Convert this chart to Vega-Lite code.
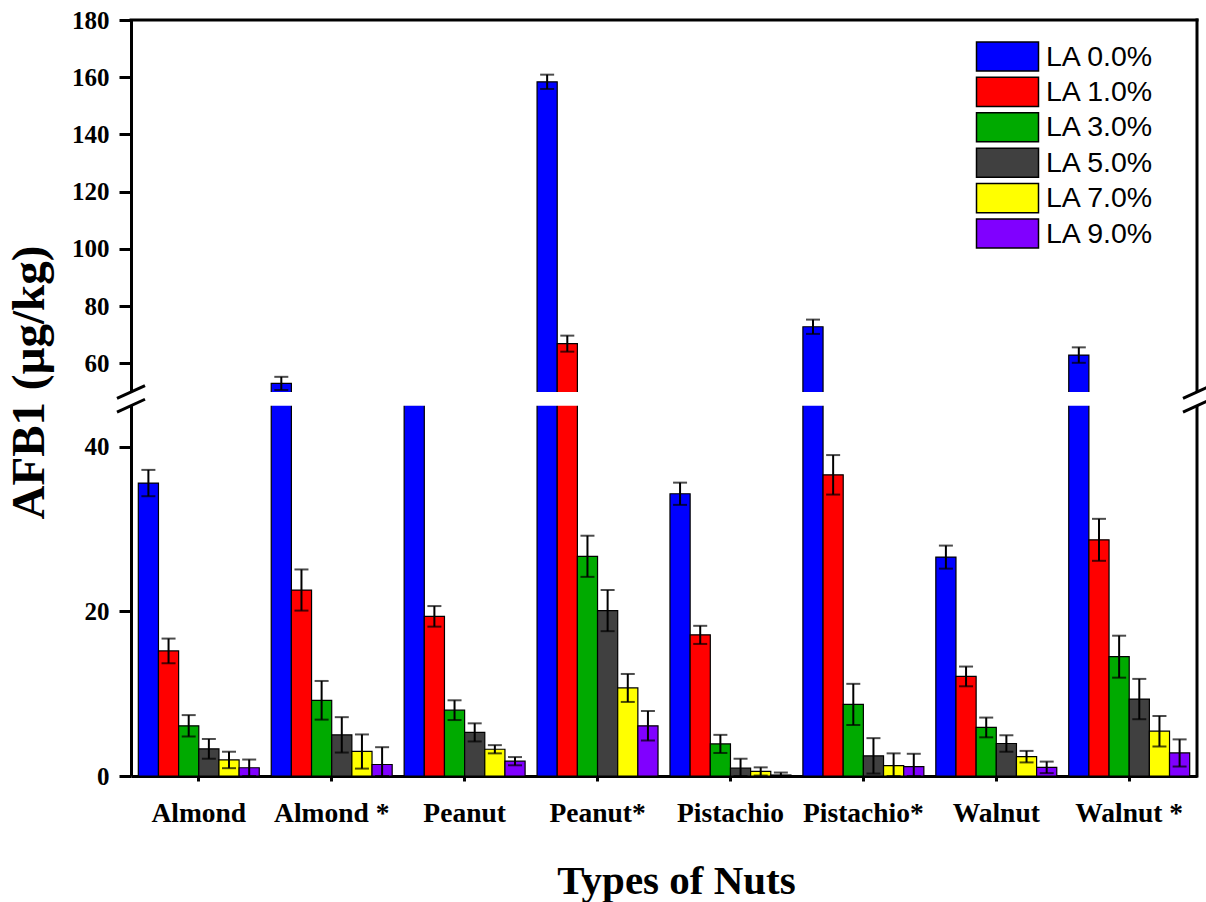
{
  "$schema": "https://vega.github.io/schema/vega-lite/v6.json",
  "width": 1066,
  "height": 756,
  "autosize": {"type": "none"},
  "padding": {"left": 131, "top": 20, "right": 9, "bottom": 126},
  "background": "white",
  "config": {"view": {"stroke": null}},
  "layer": [
    {
      "data": {
        "values": [
          {"nut": "Almond", "la": "LA 0.0%", "v": 35.6, "lo": 34.0, "hi": 37.2},
          {"nut": "Almond", "la": "LA 1.0%", "v": 15.2, "lo": 13.7, "hi": 16.7},
          {"nut": "Almond", "la": "LA 3.0%", "v": 6.1, "lo": 4.8, "hi": 7.4},
          {"nut": "Almond", "la": "LA 5.0%", "v": 3.3, "lo": 2.1, "hi": 4.5},
          {"nut": "Almond", "la": "LA 7.0%", "v": 1.95, "lo": 0.95, "hi": 2.95},
          {"nut": "Almond", "la": "LA 9.0%", "v": 1.0, "lo": 0.0, "hi": 2.0},
          {"nut": "Almond *", "la": "LA 0.0%", "v": 53.0, "lo": 50.7, "hi": 55.3},
          {"nut": "Almond *", "la": "LA 1.0%", "v": 22.6, "lo": 20.1, "hi": 25.1},
          {"nut": "Almond *", "la": "LA 3.0%", "v": 9.2, "lo": 6.85, "hi": 11.55},
          {"nut": "Almond *", "la": "LA 5.0%", "v": 5.0, "lo": 2.85, "hi": 7.15},
          {"nut": "Almond *", "la": "LA 7.0%", "v": 3.0, "lo": 0.9, "hi": 5.05},
          {"nut": "Almond *", "la": "LA 9.0%", "v": 1.4, "lo": 0.0, "hi": 3.5},
          {"nut": "Peanut", "la": "LA 0.0%", "v": 47.0, "lo": 45.5, "hi": 48.5},
          {"nut": "Peanut", "la": "LA 1.0%", "v": 19.4, "lo": 18.15, "hi": 20.65},
          {"nut": "Peanut", "la": "LA 3.0%", "v": 8.0, "lo": 6.8, "hi": 9.2},
          {"nut": "Peanut", "la": "LA 5.0%", "v": 5.3, "lo": 4.2, "hi": 6.4},
          {"nut": "Peanut", "la": "LA 7.0%", "v": 3.25, "lo": 2.75, "hi": 3.75},
          {"nut": "Peanut", "la": "LA 9.0%", "v": 1.8, "lo": 1.3, "hi": 2.3},
          {"nut": "Peanut*", "la": "LA 0.0%", "v": 158.4, "lo": 155.9, "hi": 160.9},
          {"nut": "Peanut*", "la": "LA 1.0%", "v": 66.9, "lo": 64.1, "hi": 69.7},
          {"nut": "Peanut*", "la": "LA 3.0%", "v": 26.7, "lo": 24.2, "hi": 29.2},
          {"nut": "Peanut*", "la": "LA 5.0%", "v": 20.1, "lo": 17.6, "hi": 22.6},
          {"nut": "Peanut*", "la": "LA 7.0%", "v": 10.7, "lo": 9.0, "hi": 12.4},
          {"nut": "Peanut*", "la": "LA 9.0%", "v": 6.1, "lo": 4.3, "hi": 7.9},
          {"nut": "Pistachio", "la": "LA 0.0%", "v": 34.3, "lo": 32.95, "hi": 35.65},
          {"nut": "Pistachio", "la": "LA 1.0%", "v": 17.15, "lo": 16.05, "hi": 18.25},
          {"nut": "Pistachio", "la": "LA 3.0%", "v": 3.9, "lo": 2.8, "hi": 5.0},
          {"nut": "Pistachio", "la": "LA 5.0%", "v": 0.95, "lo": 0.0, "hi": 2.1},
          {"nut": "Pistachio", "la": "LA 7.0%", "v": 0.55, "lo": 0.05, "hi": 1.05},
          {"nut": "Pistachio", "la": "LA 9.0%", "v": 0.12, "lo": 0.0, "hi": 0.42},
          {"nut": "Pistachio*", "la": "LA 0.0%", "v": 72.8, "lo": 70.3, "hi": 75.3},
          {"nut": "Pistachio*", "la": "LA 1.0%", "v": 36.6, "lo": 34.2, "hi": 39.0},
          {"nut": "Pistachio*", "la": "LA 3.0%", "v": 8.7, "lo": 6.2, "hi": 11.2},
          {"nut": "Pistachio*", "la": "LA 5.0%", "v": 2.45, "lo": 0.3, "hi": 4.6},
          {"nut": "Pistachio*", "la": "LA 7.0%", "v": 1.25, "lo": 0.0, "hi": 2.75},
          {"nut": "Pistachio*", "la": "LA 9.0%", "v": 1.15, "lo": 0.0, "hi": 2.7},
          {"nut": "Walnut", "la": "LA 0.0%", "v": 26.6, "lo": 25.2, "hi": 28.0},
          {"nut": "Walnut", "la": "LA 1.0%", "v": 12.1, "lo": 10.9, "hi": 13.3},
          {"nut": "Walnut", "la": "LA 3.0%", "v": 5.9, "lo": 4.7, "hi": 7.1},
          {"nut": "Walnut", "la": "LA 5.0%", "v": 3.95, "lo": 2.95, "hi": 4.95},
          {"nut": "Walnut", "la": "LA 7.0%", "v": 2.35, "lo": 1.65, "hi": 3.05},
          {"nut": "Walnut", "la": "LA 9.0%", "v": 1.05, "lo": 0.35, "hi": 1.75},
          {"nut": "Walnut *", "la": "LA 0.0%", "v": 62.9, "lo": 60.2, "hi": 65.6},
          {"nut": "Walnut *", "la": "LA 1.0%", "v": 28.7, "lo": 26.15, "hi": 31.25},
          {"nut": "Walnut *", "la": "LA 3.0%", "v": 14.5, "lo": 11.95, "hi": 17.05},
          {"nut": "Walnut *", "la": "LA 5.0%", "v": 9.35, "lo": 6.9, "hi": 11.8},
          {"nut": "Walnut *", "la": "LA 7.0%", "v": 5.45, "lo": 3.6, "hi": 7.3},
          {"nut": "Walnut *", "la": "LA 9.0%", "v": 2.8, "lo": 1.15, "hi": 4.45}
        ]
      },
      "layer": [
        {
          "mark": {"type": "bar", "stroke": "black", "strokeWidth": 1.2},
          "encoding": {
            "x": {
              "field": "nut", "type": "nominal", "title": "Types of Nuts",
              "scale": {"domain": ["Almond", "Almond *", "Peanut", "Peanut*", "Pistachio", "Pistachio*", "Walnut", "Walnut *"], "paddingInner": 0.09, "paddingOuter": 0.055},
              "axis": {
                "labelAngle": 0, "labelFont": "Liberation Serif", "labelFontWeight": "bold", "labelFontSize": 27.5, "labelColor": "black",
                "labelBaseline": "top", "labelPadding": 18,
                "tickSize": 5, "tickWidth": 3, "tickColor": "black", "domainWidth": 3, "domainColor": "black",
                "titleFont": "Liberation Serif", "titleFontWeight": "bold", "titleFontSize": 41, "titleColor": "black",
                "titleX": 545, "titleY": 117, "titleBaseline": "alphabetic", "titleAlign": "center"
              }
            },
            "xOffset": {"field": "la", "type": "nominal", "scale": {"domain": ["LA 0.0%", "LA 1.0%", "LA 3.0%", "LA 5.0%", "LA 7.0%", "LA 9.0%"], "paddingInner": 0, "paddingOuter": 0}},
            "y": {
              "field": "v", "type": "quantitative", "stack": null, "title": "AFB1 (µg/kg)",
              "scale": {"domain": [0, 45, 50, 180], "range": [756, 385.7, 372, 0], "nice": false, "zero": false},
              "axis": {
                "values": [0, 20, 40, 60, 80, 100, 120, 140, 160, 180],
                "labelFont": "Liberation Serif", "labelFontWeight": "bold", "labelFontSize": 25, "labelColor": "black",
                "labelPadding": 10, "labelFlush": false, "labelOverlap": false,
                "tickSize": 12, "tickWidth": 3, "tickColor": "black", "domainWidth": 3, "domainColor": "black", "grid": false,
                "titleFont": "Liberation Serif", "titleFontWeight": "bold", "titleFontSize": 47, "titleColor": "black",
                "titleX": -88, "titleY": 362, "titleAngle": -90, "titleBaseline": "alphabetic", "titleAlign": "center"
              }
            },
            "fill": {
              "field": "la", "type": "nominal",
              "scale": {"domain": ["LA 0.0%", "LA 1.0%", "LA 3.0%", "LA 5.0%", "LA 7.0%", "LA 9.0%"], "range": ["#0000FF", "#FF0000", "#00AA00", "#404040", "#FFFF00", "#8000FF"]},
              "legend": {
                "orient": "none", "legendX": 860, "legendY": 20, "title": null, "padding": 0,
                "symbolType": "M-2,-0.94H2V0.94H-2Z", "symbolSize": 961, "symbolStrokeColor": "black", "symbolStrokeWidth": 1.5, "symbolOpacity": 1,
                "labelFont": "Liberation Sans", "labelFontSize": 28.5, "labelColor": "black", "labelOffset": 22, "rowPadding": -1.6
              }
            }
          }
        },
        {
          "mark": {"type": "rule", "stroke": "black", "strokeWidth": 2},
          "encoding": {
            "x": {"field": "nut", "type": "nominal", "title": "Types of Nuts", "scale": {"domain": ["Almond", "Almond *", "Peanut", "Peanut*", "Pistachio", "Pistachio*", "Walnut", "Walnut *"], "paddingInner": 0.09, "paddingOuter": 0.055}},
            "xOffset": {"field": "la", "type": "nominal", "scale": {"domain": ["LA 0.0%", "LA 1.0%", "LA 3.0%", "LA 5.0%", "LA 7.0%", "LA 9.0%"], "paddingInner": 0, "paddingOuter": 0}},
            "y": {"field": "lo", "type": "quantitative", "title": "AFB1 (µg/kg)", "scale": {"domain": [0, 45, 50, 180], "range": [756, 385.7, 372, 0], "nice": false, "zero": false}},
            "y2": {"field": "hi"}
          }
        },
        {
          "mark": {"type": "tick", "color": "black", "thickness": 2, "size": 14},
          "encoding": {
            "x": {"field": "nut", "type": "nominal", "title": "Types of Nuts", "scale": {"domain": ["Almond", "Almond *", "Peanut", "Peanut*", "Pistachio", "Pistachio*", "Walnut", "Walnut *"], "paddingInner": 0.09, "paddingOuter": 0.055}},
            "xOffset": {"field": "la", "type": "nominal", "scale": {"domain": ["LA 0.0%", "LA 1.0%", "LA 3.0%", "LA 5.0%", "LA 7.0%", "LA 9.0%"], "paddingInner": 0, "paddingOuter": 0}},
            "y": {"field": "lo", "type": "quantitative", "title": "AFB1 (µg/kg)", "scale": {"domain": [0, 45, 50, 180], "range": [756, 385.7, 372, 0], "nice": false, "zero": false}}
          }
        },
        {
          "mark": {"type": "tick", "color": "black", "thickness": 2, "size": 14},
          "encoding": {
            "x": {"field": "nut", "type": "nominal", "title": "Types of Nuts", "scale": {"domain": ["Almond", "Almond *", "Peanut", "Peanut*", "Pistachio", "Pistachio*", "Walnut", "Walnut *"], "paddingInner": 0.09, "paddingOuter": 0.055}},
            "xOffset": {"field": "la", "type": "nominal", "scale": {"domain": ["LA 0.0%", "LA 1.0%", "LA 3.0%", "LA 5.0%", "LA 7.0%", "LA 9.0%"], "paddingInner": 0, "paddingOuter": 0}},
            "y": {"field": "hi", "type": "quantitative", "title": "AFB1 (µg/kg)", "scale": {"domain": [0, 45, 50, 180], "range": [756, 385.7, 372, 0], "nice": false, "zero": false}}
          }
        }
      ]
    },
    {
      "layer": [
        {
          "data": {"values": [{"px": 1, "ya": 0, "yb": 180}]},
          "mark": {"type": "rule", "color": "black", "strokeWidth": 3, "strokeCap": "square"},
          "encoding": {
            "x": {"field": "px", "type": "quantitative", "scale": {"domain": [0, 1], "nice": false}, "axis": null},
            "y": {"field": "ya", "type": "quantitative", "title": "AFB1 (µg/kg)", "scale": {"domain": [0, 45, 50, 180], "range": [756, 385.7, 372, 0], "nice": false, "zero": false}},
            "y2": {"field": "yb"}
          }
        },
        {
          "data": {"values": [{"xa": 0, "xb": 1, "py": 180}]},
          "mark": {"type": "rule", "color": "black", "strokeWidth": 3, "strokeCap": "square"},
          "encoding": {
            "x": {"field": "xa", "type": "quantitative", "scale": {"domain": [0, 1], "nice": false}, "axis": null},
            "x2": {"field": "xb"},
            "y": {"field": "py", "type": "quantitative", "title": "AFB1 (µg/kg)", "scale": {"domain": [0, 45, 50, 180], "range": [756, 385.7, 372, 0], "nice": false, "zero": false}}
          }
        },
        {
          "data": {"values": [{"xa": -0.008, "xb": 1.008, "ya": 45, "yb": 50}]},
          "mark": {"type": "rect", "fill": "white"},
          "encoding": {
            "x": {"field": "xa", "type": "quantitative", "scale": {"domain": [0, 1], "nice": false}, "axis": null},
            "x2": {"field": "xb"},
            "y": {"field": "ya", "type": "quantitative", "title": "AFB1 (µg/kg)", "scale": {"domain": [0, 45, 50, 180], "range": [756, 385.7, 372, 0], "nice": false, "zero": false}},
            "y2": {"field": "yb"}
          }
        },
        {
          "data": {"values": [{"px": 0, "py": 50}, {"px": 0, "py": 45}, {"px": 1, "py": 50}, {"px": 1, "py": 45}]},
          "mark": {"type": "point", "shape": "M-1,0.46L1,-0.46", "size": 784, "filled": false, "stroke": "black", "strokeWidth": 3, "opacity": 1},
          "encoding": {
            "x": {"field": "px", "type": "quantitative", "scale": {"domain": [0, 1], "nice": false}, "axis": null},
            "y": {"field": "py", "type": "quantitative", "title": "AFB1 (µg/kg)", "scale": {"domain": [0, 45, 50, 180], "range": [756, 385.7, 372, 0], "nice": false, "zero": false}}
          }
        }
      ]
    }
  ],
  "resolve": {"scale": {"x": "independent"}}
}
